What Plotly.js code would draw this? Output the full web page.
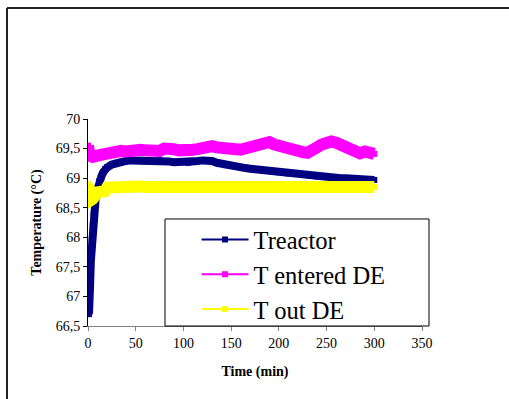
<!DOCTYPE html>
<html>
<head>
<meta charset="utf-8">
<script src="https://cdn.plot.ly/plotly-3.0.1.min.js"></script>
<style>
html,body{margin:0;padding:0;background:#fff;}
#chart{width:509px;height:399px;}
</style>
</head>
<body>
<div id="chart"></div>
<script>
const timeMin = [0,1,2,3,4,5,6,7,8,9,10,12,14,16,18,20,25,30,35,40,45,50,55,60,65,70,75,80,85,90,95,100,105,110,115,120,125,130,135,140,145,150,155,160,165,170,175,180,185,190,195,200,205,210,215,220,225,230,235,240,245,250,255,260,265,270,275,280,285,290,295,300];

const tReactor = [67.5,66.7,67.1,67.6,67.95,68.2,68.4,68.55,68.65,68.75,68.83,
  68.95,69.03,69.1,69.15,69.18,
  69.23,69.26,69.28,69.29,69.3,69.3,69.31,69.3,69.3,69.29,
  69.3,69.29,69.28,69.27,69.27,69.27,69.26,69.27,69.29,69.3,
  69.3,69.29,69.26,69.24,69.22,69.21,69.2,69.19,69.17,69.16,
  69.15,69.14,69.13,69.12,69.11,69.1,69.09,69.08,69.08,69.07,
  69.06,69.05,69.04,69.03,69.02,69.02,69.02,69.01,69.0,69.0,
  68.99,68.99,68.98,68.98,68.98,68.97];

const tEnteredDE = [69.55,69.4,69.33,69.35,69.37,69.36,69.38,69.37,69.38,69.39,69.38,
  69.39,69.4,69.39,69.41,69.41,
  69.42,69.44,69.46,69.45,69.47,69.46,69.48,69.47,69.46,69.47,
  69.46,69.5,69.52,69.49,69.47,69.46,69.47,69.48,69.49,69.52,
  69.56,69.54,69.52,69.5,69.49,69.5,69.49,69.48,69.5,69.55,
  69.56,69.58,69.6,69.61,69.57,69.54,69.51,69.48,69.46,69.45,
  69.44,69.43,69.45,69.52,69.57,69.6,69.62,69.6,69.57,69.53,
  69.47,69.43,69.42,69.45,69.44,69.41];

const tOutDE = [68.9,68.75,68.65,68.63,68.64,68.65,68.66,68.68,68.7,68.74,68.76,
  68.76,68.77,68.77,68.78,68.84,
  68.85,68.85,68.86,68.85,68.85,68.85,68.86,68.85,68.85,68.85,
  68.85,68.85,68.85,68.86,68.85,68.85,68.85,68.85,68.85,68.86,
  68.85,68.85,68.85,68.85,68.85,68.86,68.85,68.85,68.85,68.85,
  68.85,68.85,68.86,68.85,68.85,68.85,68.85,68.85,68.85,68.85,
  68.86,68.85,68.85,68.85,68.85,68.85,68.85,68.85,68.86,68.85,
  68.85,68.85,68.85,68.85,68.85,68.85];

const seriesNames = ['Treactor','T entered DE','T out DE'];
const seriesData = [tReactor, tEnteredDE, tOutDE];
const seriesColors = ['#000080','#FF00FF','#FFFF00'];
const bandWidths = [8, 12, 12];

const xTicks = [0,50,100,150,200,250,300,350];
const yTicks = [66.5,67,67.5,68,68.5,69,69.5,70];

const traces = [];
// thin traces carry the legend entries (line with small square marker)
seriesData.forEach((ys, i) => {
  traces.push({
    x: timeMin, y: ys, type: 'scatter', mode: 'lines+markers',
    name: seriesNames[i], legendgroup: 'g' + i,
    line: {color: seriesColors[i], width: 2},
    marker: {color: seriesColors[i], symbol: 'square', size: 6},
    hoverinfo: 'skip'
  });
});
// thick bands as drawn in the original
seriesData.forEach((ys, i) => {
  traces.push({
    x: timeMin, y: ys, type: 'scatter', mode: 'lines',
    name: seriesNames[i], legendgroup: 'g' + i, showlegend: false,
    line: {color: seriesColors[i], width: bandWidths[i]},
    hoverinfo: 'skip'
  });
});

const serif = 'Liberation Serif, Times New Roman, serif';

const layout = {
  width: 509, height: 399,
  margin: {l: 88, r: 87, t: 119, b: 73},
  paper_bgcolor: '#fff', plot_bgcolor: '#fff',
  separators: ', ',
  font: {family: serif, color: '#000', size: 14},
  showlegend: true,
  legend: {
    x: 0.325, xanchor: 'left', y: 0.5266, yanchor: 'top',
    bgcolor: 'rgba(0,0,0,0)', borderwidth: 0,
    font: {family: serif, size: 24.5, color: '#000'},
    itemwidth: 47, tracegroupgap: 0
  },
  xaxis: {
    range: [0, 350], tickvals: xTicks, ticktext: xTicks.map(String),
    showgrid: false, zeroline: false,
    showline: true, linecolor: '#808080', linewidth: 1,
    ticks: 'outside', ticklen: 4, tickcolor: '#808080',
    tickfont: {family: serif, size: 14, color: '#000'},
    title: {text: 'Time (min)', font: {family: serif, size: 14, color: '#000', weight: 'bold'}, standoff: 16},
    fixedrange: true
  },
  yaxis: {
    range: [66.5, 70], tickvals: yTicks, ticktext: yTicks.map(v => String(v).replace('.', ',')),
    showgrid: false, zeroline: false,
    showline: true, linecolor: '#000', linewidth: 1,
    ticks: 'outside', ticklen: 4, tickcolor: '#000',
    tickfont: {family: serif, size: 14, color: '#000'},
    title: {text: 'Temperature (°C)', font: {family: serif, size: 14, color: '#000', weight: 'bold'}, standoff: 10},
    fixedrange: true
  },
  shapes: [
    {type: 'rect', xref: 'paper', yref: 'paper', x0: 0.2305, x1: 1.021, y0: 0, y1: 0.517,
     line: {color: '#000', width: 1}, fillcolor: '#fff', layer: 'above'},
    {type: 'line', xref: 'paper', yref: 'paper', x0: -0.2425, x1: 1.35, y0: 1.536, y1: 1.536,
     line: {color: '#222', width: 2}},
    {type: 'line', xref: 'paper', yref: 'paper', x0: -0.2425, x1: -0.2425, y0: 1.536, y1: -0.5,
     line: {color: '#222', width: 2}}
  ]
};

Plotly.newPlot('chart', traces, layout, {staticPlot: true, displayModeBar: false});
</script>
</body>
</html>
